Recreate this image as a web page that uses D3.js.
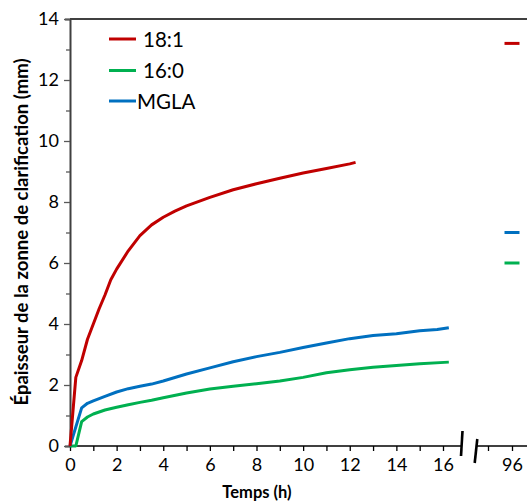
<!DOCTYPE html>
<html><head><meta charset="utf-8">
<script src="https://cdn.jsdelivr.net/npm/d3@7"></script>
<style>body{margin:0;background:#fff}svg{display:block}text{font-family:Lato,"Open Sans",sans-serif}</style>
</head><body>
<div id="chart"></div>
<script>
// ---- data ----
const seriesNames = ["18:1", "16:0", "MGLA"];
const seriesColors = ["#c00000", "#00b050", "#0070c0"];
const times181 = [0,0.25,0.5,0.75,1,1.25,1.5,1.75,2,2.5,3,3.5,4,4.5,5,6,7,8,9,10,11,12,12.25];
const vals181  = [0,2.25,2.8,3.5,4.0,4.5,4.95,5.45,5.8,6.4,6.9,7.25,7.5,7.7,7.87,8.15,8.4,8.6,8.78,8.95,9.1,9.25,9.3];
const times160 = [0,0.25,0.5,0.75,1,1.5,2,2.5,3,3.5,4,5,6,7,8,9,10,11,12,13,14,15,16.25];
const vals160  = [0,0,0.8,0.95,1.05,1.18,1.27,1.35,1.43,1.5,1.58,1.74,1.87,1.96,2.04,2.13,2.25,2.4,2.5,2.58,2.64,2.7,2.75];
const timesMGLA = [0,0.5,0.75,1,1.5,2,2.5,3,3.5,4,5,6,7,8,9,10,11,12,13,14,15,15.75,16.25];
const valsMGLA  = [0,1.25,1.4,1.48,1.63,1.77,1.88,1.96,2.03,2.13,2.36,2.56,2.76,2.93,3.07,3.23,3.38,3.52,3.62,3.68,3.78,3.82,3.88];
const finalTime = 96;
const finalVals = [13.2, 6.0, 7.0]; // 18:1, 16:0, MGLA at 96 h
const yTicks = [0,2,4,6,8,10,12,14];
const xTicksLeft = [0,2,4,6,8,10,12,14,16];
const xTicksRight = [96];

// ---- layout ----
const W = 527, H = 504;
const svg = d3.select("#chart").append("svg").attr("width", W).attr("height", H);
const y = d3.scaleLinear().domain([0,14]).range([446,19]);
const xL = d3.scaleLinear().domain([0,16]).range([70,443]);
const xR = d3.scaleLinear().domain([95,96]).range([488,512]);

// top border
svg.append("line").attr("x1",70).attr("x2",W).attr("y1",y(14)).attr("y2",y(14))
  .attr("stroke","#000").attr("stroke-width",1.5);

// y axis
const yAx = svg.append("g").attr("transform","translate(70,0)")
  .call(d3.axisLeft(y).tickValues(d3.range(0,15,1)).tickSize(5).tickFormat(d=> yTicks.includes(d)? d : ""));
yAx.select(".domain").attr("stroke","#404040").attr("stroke-width",2);
yAx.selectAll(".tick line").attr("stroke","#595959").attr("stroke-width",1.3)
  .attr("x2", d=> d%2===0 ? -6 : -4);
yAx.selectAll(".tick text").attr("font-size",18).attr("fill","#000").attr("x",-11);

// x axis left segment
const xAxL = svg.append("g").attr("transform","translate(0,446)")
  .call(d3.axisBottom(xL).tickValues(d3.range(0,17,1)).tickSize(5).tickSizeOuter(0)
    .tickFormat(d=> xTicksLeft.includes(d)? d : ""));
xAxL.select(".domain").attr("d","M70,0H462").attr("stroke","#000").attr("stroke-width",1.5);
xAxL.selectAll(".tick line").attr("stroke","#000").attr("stroke-width",1.3);
xAxL.selectAll(".tick text").attr("font-size",18).attr("fill","#000").attr("y",12);

// x axis right segment
const xAxR = svg.append("g").attr("transform","translate(0,446)")
  .call(d3.axisBottom(xR).tickValues([95,96]).tickSize(5).tickSizeOuter(0)
    .tickFormat(d=> xTicksRight.includes(d)? d : ""));
xAxR.select(".domain").attr("d","M476,0H527").attr("stroke","#000").attr("stroke-width",1.5);
xAxR.selectAll(".tick line").attr("stroke","#000").attr("stroke-width",1.3);
xAxR.selectAll(".tick text").attr("font-size",18).attr("fill","#000").attr("y",12);

// break marks
svg.append("line").attr("x1",462.5).attr("y1",431).attr("x2",461).attr("y2",456)
  .attr("stroke","#000").attr("stroke-width",2.6);
svg.append("line").attr("x1",477.3).attr("y1",439).attr("x2",474.7).attr("y2",463)
  .attr("stroke","#000").attr("stroke-width",2.6);

// lines
const series = [
  {t: times181, v: vals181},
  {t: times160, v: vals160},
  {t: timesMGLA, v: valsMGLA}
];
const line = d3.line().x(d=>xL(d[0])).y(d=>y(d[1]));
const order = [1,2,0];
order.forEach(i=>{
  const s = series[i];
  svg.append("path").datum(s.t.map((t,j)=>[t,s.v[j]]))
    .attr("d",line).attr("fill","none").attr("stroke",seriesColors[i])
    .attr("stroke-width",3).attr("stroke-linejoin","round");
});

// 96 h markers (dash)
finalVals.forEach((v,i)=>{
  svg.append("line").attr("x1",xR(finalTime)-7.5).attr("x2",xR(finalTime)+7.5)
    .attr("y1",y(v)).attr("y2",y(v)).attr("stroke",seriesColors[i]).attr("stroke-width",3);
});

// legend
const legY = [39, 70.5, 101];
const legTx = [143, 143, 137];
seriesNames.forEach((n,i)=>{
  svg.append("line").attr("x1",109).attr("x2",136).attr("y1",legY[i]).attr("y2",legY[i])
    .attr("stroke",seriesColors[i]).attr("stroke-width",3);
  svg.append("text").attr("x",legTx[i]).attr("y",legY[i]+7.5).attr("font-size",20.5).attr("fill","#000").text(n);
});

// axis titles
svg.append("text").attr("x",257).attr("y",498).attr("text-anchor","middle")
  .attr("font-size",16.5).attr("font-weight","bold").text("Temps (h)");
svg.append("text").attr("transform","translate(28,232) rotate(-90)").attr("text-anchor","middle")
  .attr("font-size",18.5).attr("font-weight","bold").text("Épaisseur de la zonne de clarification (mm)");
</script>
</body></html>
